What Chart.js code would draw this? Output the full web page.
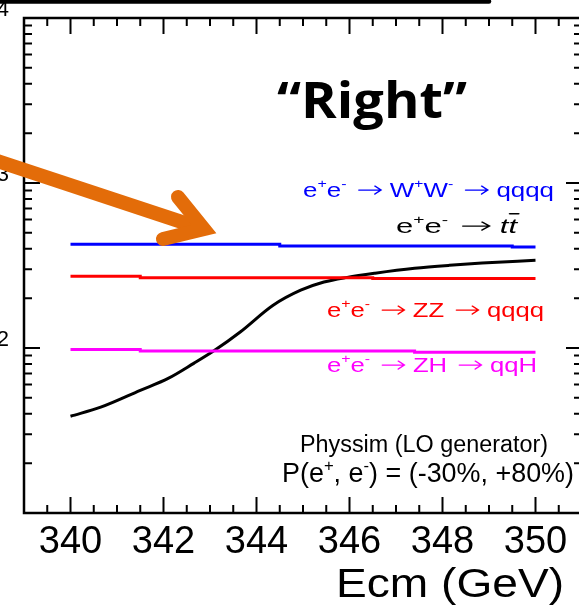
<!DOCTYPE html>
<html>
<head>
<meta charset="utf-8">
<script src="https://cdn.jsdelivr.net/npm/chart.js@4.4.1/dist/chart.umd.min.js"></script>
<style>
  html, body { margin: 0; padding: 0; background: #fff; overflow: hidden; }
  #wrap { position: relative; width: 585px; height: 608px; }
</style>
</head>
<body>
<div id="wrap"><canvas id="chart" width="585" height="608"></canvas></div>
<script>
// cross sections vs centre-of-mass energy (log y)
const ttbarEcm  = [340.0, 340.65, 341.5, 342.1, 342.65, 343.1, 343.65, 344.35, 344.95, 345.45, 345.95, 346.55, 347.4, 348.15, 348.85, 350.0];
const ttbarXsec = [38.6, 43.8, 55.4, 65.4, 80.7, 96.8, 125, 181, 224, 251, 268, 284, 304, 317, 327, 340];

const wwEcm  = [340, 344.5, 349.5, 350];
const wwXsec = [425, 415, 409, 409];

const zzEcm  = [340, 341.5, 346.5, 350];
const zzXsec = [272, 267, 263.5, 263.5];

const zhEcm  = [340, 341.5, 347.4, 350];
const zhXsec = [97.8, 95.9, 94.2, 94.2];

const xTickValues = [340, 342, 344, 346, 348, 350];
const yTickValues = [100, 1000, 10000];

const SANS = '"Liberation Sans", Arial, Helvetica, sans-serif';

const pts = (xs, ys) => xs.map((x, i) => ({ x, y: ys[i] }));

// text with superscripts and drawn arrows, stretched to a given width
function richText(ctx, runs, x0, base, width, size, color, family) {
  ctx.save();
  let w = 0;
  const parts = runs.map(r => {
    const s = r.sup ? size * 0.62 : size;
    const font = (r.italic ? 'italic ' : '') + (r.bold ? 'bold ' : '') + s + 'px ' + family;
    ctx.font = font;
    const m = r.arrow ? r.arrow[0] + r.arrow[1] + r.arrow[2] : ctx.measureText(r.t).width;
    const p = Object.assign({}, r, { font, m, x: w });
    w += m;
    return p;
  });
  const k = width / w;
  ctx.translate(x0, base);
  ctx.scale(k, 1);
  ctx.fillStyle = color;
  ctx.strokeStyle = color;
  ctx.textAlign = 'left';
  ctx.textBaseline = 'alphabetic';
  parts.forEach(p => {
    if (p.arrow) {
      const a0 = p.x + p.arrow[0], a1 = a0 + p.arrow[1], ay = -size * 0.33;
      ctx.lineWidth = 1.3;
      ctx.beginPath();
      ctx.moveTo(a0, ay); ctx.lineTo(a1, ay);
      ctx.moveTo(a1 - 5, ay - 4); ctx.lineTo(a1, ay); ctx.lineTo(a1 - 5, ay + 4);
      ctx.stroke();
      return;
    }
    ctx.font = p.font;
    ctx.fillText(p.t, p.x, p.sup ? -size * 0.42 : 0);
    if (p.bar) {
      ctx.lineWidth = 1.6;
      ctx.beginPath();
      ctx.moveTo(p.x + 1, -size * 0.92);
      ctx.lineTo(p.x + p.m + 1, -size * 0.92);
      ctx.stroke();
    }
  });
  ctx.restore();
}

const ee = [{ t: 'e' }, { t: '+', sup: true }, { t: 'e' }, { t: '-', sup: true }];
const arr = { arrow: [10, 18, 7] };

// ROOT style frame with inward ticks on all four sides
const rootFrame = {
  id: 'rootFrame',
  afterDraw(chart) {
    const { ctx, chartArea: a } = chart;
    const x = chart.scales.x, y = chart.scales.y;
    ctx.save();
    ctx.strokeStyle = '#000';
    ctx.lineWidth = 2;
    ctx.beginPath();
    for (let v = 339; v <= 351.001; v += 0.5) {
      const px = x.getPixelForValue(v);
      const len = Math.abs(v % 2) < 1e-6 ? 16 : 8;
      ctx.moveTo(px, a.bottom); ctx.lineTo(px, a.bottom - len);
      ctx.moveTo(px, a.top); ctx.lineTo(px, a.top + len);
    }
    for (let d = 10; d < 10000; d *= 10) {
      for (let m = 1; m <= 9; m++) {
        const py = y.getPixelForValue(d * m);
        const len = m === 1 ? 16 : 8;
        ctx.moveTo(a.left, py); ctx.lineTo(a.left + len, py);
        ctx.moveTo(a.right, py); ctx.lineTo(a.right - len, py);
      }
    }
    ctx.stroke();
    ctx.lineWidth = 2.5;
    ctx.strokeRect(a.left, a.top, a.right - a.left, a.bottom - a.top);
    ctx.restore();
  }
};

const annotations = {
  id: 'annotations',
  afterDraw(chart) {
    const ctx = chart.ctx;
    ctx.save();

    // slide bar at the very top
    ctx.strokeStyle = '#000';
    ctx.lineWidth = 4.5;
    ctx.lineCap = 'round';
    ctx.beginPath();
    ctx.moveTo(-10, 1.5); ctx.lineTo(489, 1.5);
    ctx.stroke();

    // legend texts
    richText(ctx, [...ee, arr, { t: 'W' }, { t: '+', sup: true }, { t: 'W' }, { t: '-', sup: true }, arr, { t: 'qqqq' }],
      303, 197, 251, 21, '#0000ff', SANS);
    richText(ctx, [...ee, arr, { t: 't', italic: true }, { t: 't', italic: true, bar: true }],
      396, 233, 121, 21, '#000', SANS);
    richText(ctx, [...ee, arr, { t: 'ZZ' }, arr, { t: 'qqqq' }],
      327, 317, 217, 21, '#ff0000', SANS);
    richText(ctx, [...ee, arr, { t: 'ZH' }, arr, { t: 'qqH' }],
      327, 372, 210, 21, '#ff00ff', SANS);

    richText(ctx, [{ t: 'Physsim (LO generator)' }], 300, 452, 248, 23, '#000', SANS);
    richText(ctx, [{ t: 'P(e' }, { t: '+', sup: true }, { t: ', e' }, { t: '-', sup: true }, { t: ') = (-30%, +80%)' }],
      282, 482, 292, 27, '#000', SANS);

    // axis title
    richText(ctx, [{ t: 'Ecm (GeV)' }], 336, 597, 228, 41, '#000', SANS);

    // big label
    richText(ctx, [{ t: '\u201CRight\u201D', bold: true }], 277, 118, 190, 50, '#000', '"Open Sans", Lato, sans-serif');

    // orange arrow
    ctx.strokeStyle = '#e36c09';
    ctx.lineWidth = 14;
    ctx.lineCap = 'butt';
    ctx.beginPath();
    ctx.moveTo(-12, 158); ctx.lineTo(200, 228);
    ctx.stroke();
    ctx.lineCap = 'round';
    ctx.lineJoin = 'miter';
    ctx.beginPath();
    ctx.moveTo(178, 197); ctx.lineTo(204, 229); ctx.lineTo(163, 239);
    ctx.stroke();

    ctx.restore();
  }
};

const lineStyle = { pointRadius: 0, fill: false, borderWidth: 3 };

new Chart(document.getElementById('chart'), {
  type: 'line',
  data: {
    datasets: [
      Object.assign({ label: 'WW', data: pts(wwEcm, wwXsec), borderColor: '#0000ff', stepped: 'before' }, lineStyle),
      Object.assign({ label: 'ZZ', data: pts(zzEcm, zzXsec), borderColor: '#ff0000', stepped: 'before' }, lineStyle),
      Object.assign({ label: 'ZH', data: pts(zhEcm, zhXsec), borderColor: '#ff00ff', stepped: 'before' }, lineStyle),
      Object.assign({ label: 'ttbar', data: pts(ttbarEcm, ttbarXsec), borderColor: '#000', cubicInterpolationMode: 'monotone' }, lineStyle)
    ]
  },
  options: {
    responsive: false,
    animation: false,
    layout: { padding: { top: 18, right: 3, left: 0, bottom: 0 } },
    plugins: { legend: { display: false }, tooltip: { enabled: false } },
    scales: {
      x: {
        type: 'linear',
        min: 339,
        max: 351,
        grid: { display: false, drawTicks: false },
        border: { display: false },
        afterBuildTicks: s => { s.ticks = xTickValues.map(v => ({ value: v })); },
        afterFit: s => { s.height = 95; s.paddingLeft = 0; s.paddingRight = 0; },
        ticks: {
          color: '#000',
          font: { family: SANS, size: 38 },
          padding: 7,
          maxRotation: 0,
          autoSkip: false
        }
      },
      y: {
        type: 'logarithmic',
        min: 10,
        max: 10000,
        grid: { display: false, drawTicks: false },
        border: { display: false },
        afterBuildTicks: s => { s.ticks = yTickValues.map(v => ({ value: v })); },
        afterFit: s => { s.width = 24; s.paddingTop = 0; s.paddingBottom = 0; },
        ticks: {
          color: '#000',
          font: { family: SANS, size: 22 },
          padding: 15,
          labelOffset: -8,
          callback: v => String(Math.round(Math.log10(v)))
        }
      }
    }
  },
  plugins: [rootFrame, annotations]
});
</script>
</body>
</html>
